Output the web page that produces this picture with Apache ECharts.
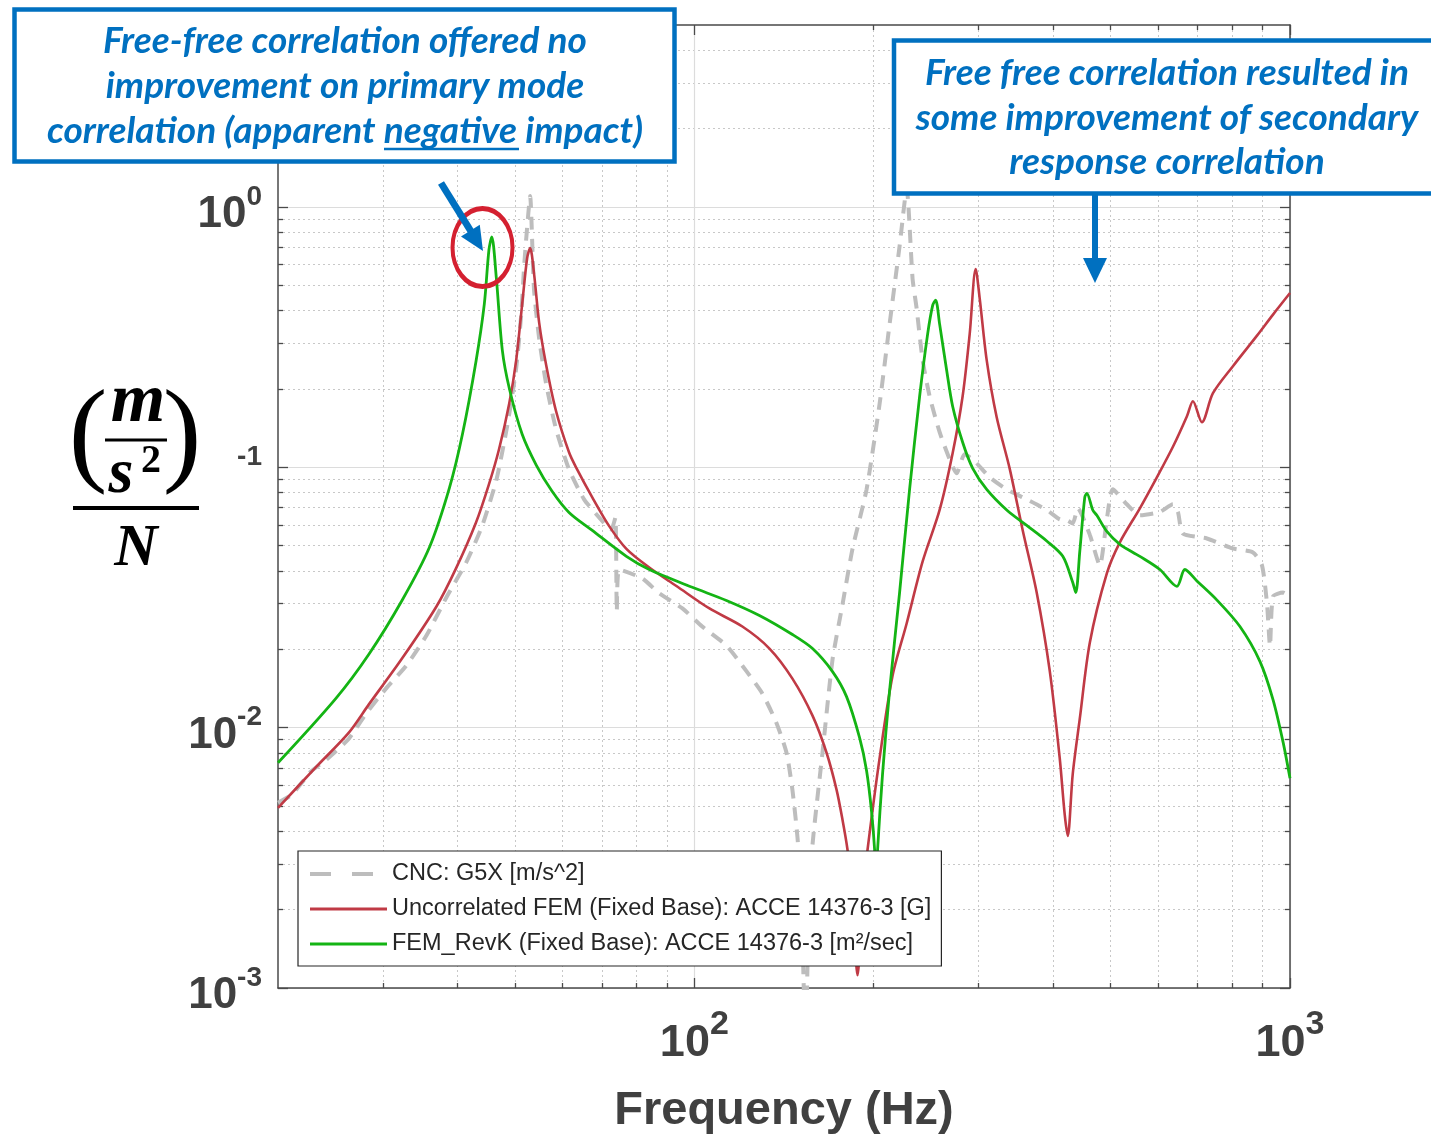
<!DOCTYPE html>
<html>
<head>
<meta charset="utf-8">
<script src="https://cdn.jsdelivr.net/npm/echarts@6/dist/echarts.min.js"></script>
<style>
html,body{margin:0;padding:0;background:#ffffff;}
#chart{width:1431px;height:1134px;}
</style>
</head>
<body>
<div id="chart"></div>
<script>
// ---------------- data ----------------
const seriesNames = [
  'CNC: G5X [m/s^2]',
  'Uncorrelated FEM (Fixed Base): ACCE 14376-3 [G]',
  'FEM_RevK (Fixed Base): ACCE 14376-3 [m²/sec]'
];

const cncFreq = [20,21.1,22.7,24.1,26.3,28.1,30.5,32.8,35.5,38.5,
  41.4,44.0,46.5,48.5,50.2,51.2,51.8,52.4,53.0,53.8,
  54.9,56.4,58.6,61.6,65.3,69.2,72.5,73.7,74.1,74.8,
  81.8,87.4,95.5,103.1,113.2,122.3,130.1,137.3,142.8,146.1,
  149.0,151.3,153.7,155.5,157.9,164.1,170.6,177.3,184.3,194.6,
  204.6,212.7,221.1,227.2,232.5,236.1,241.7,248.3,258.1,268.3,
  275.6,284.3,295.6,313.3,334.5,361.4,390.5,410.6,421.8,431.8,
  440.3,461.3,479.4,492.6,504.0,532.2,559.7,604.7,636.0,648.4,
  661.0,725.3,802.0,866.7,897.4,914.9,925.6,936.4,973.2,1000];
const cncVal = [0.00515,0.00553,0.00677,0.00753,0.00907,0.01132,0.01431,0.01724,0.02259,0.0322,
  0.0431,0.0593,0.0891,0.1438,0.2381,0.3842,0.5957,0.8377,1.102,0.4838,
  0.3108,0.2086,0.14,0.0982,0.0753,0.0642,0.0577,0.0642,0.02794,0.0405,
  0.0374,0.03276,0.0287,0.02446,0.02067,0.01648,0.01351,0.01045,0.00801,0.00577,
  0.00378,0.00218,0.0006,0.00183,0.00355,0.00801,0.01826,0.02972,0.0486,0.0823,
  0.1747,0.3548,0.7079,1.173,0.5286,0.4089,0.258,0.1875,0.1364,0.1073,
  0.0948,0.1122,0.1055,0.0915,0.0823,0.0753,0.0686,0.0631,0.0626,0.0609,
  0.0696,0.055,0.042,0.0631,0.0823,0.0721,0.0654,0.0674,0.0721,0.0674,
  0.0557,0.0533,0.0488,0.0471,0.042,0.03,0.02058,0.0319,0.03305,0.0319];

const femFreq = [20,23.2,26.3,28.4,32.3,36.9,39.8,43.0,45.2,47.0,
  48.9,50.2,51.4,52.4,53.0,53.8,54.9,56.4,58.6,61.6,
  63.3,67.4,72.0,76.9,84.0,93.3,106.0,120.4,133.7,146.1,
  157.9,166.7,173.3,177.3,180.7,184.3,187.9,191.6,195.4,204.6,
  215.2,227.2,241.7,258.1,271.4,282.1,289.9,296.7,301.3,309.6,
  321.8,338.3,355.9,375.6,395.0,410.6,418.6,423.5,431.8,443.7,
  461.3,492.6,518.0,559.7,597.7,636.0,671.4,687.1,711.4,742.4,
  802.0,880.2,936.4,1000];
const femVal = [0.00492,0.00708,0.00957,0.01226,0.01842,0.0292,0.0409,0.0614,0.086,0.1173,
  0.1763,0.2557,0.4235,0.6367,0.6956,0.5573,0.358,0.2468,0.1642,0.1142,
  0.1,0.0767,0.0593,0.0486,0.0412,0.035,0.0287,0.02446,0.02013,0.01543,
  0.01112,0.00801,0.00577,0.00443,0.00342,0.00228,0.00112,0.00228,0.00342,0.0076,
  0.01585,0.02512,0.0435,0.0686,0.1132,0.1875,0.3248,0.5775,0.4467,0.258,
  0.1557,0.0991,0.0572,0.03305,0.01657,0.00763,0.00463,0.00384,0.00665,0.01083,
  0.02123,0.0391,0.0515,0.0696,0.0915,0.1199,0.1571,0.1794,0.149,0.1926,
  0.2446,0.3205,0.386,0.467];

const revkFreq = [20,25.0,28.4,32.3,35.9,38.8,40.8,43.0,44.4,45.2,
  45.7,46.5,47.6,48.9,51.4,54.3,57.7,61.6,67.4,76.9,
  84.0,99.2,113.2,128.6,146.1,157.9,170.6,180.1,189.4,194.6,
  198.4,200.7,201.8,203.0,207.0,212.7,221.1,229.8,238.9,246.4,
  251.2,254.1,258.1,265.2,271.4,282.1,293.3,309.6,334.5,361.4,
  390.5,415.5,431.8,436.8,443.7,452.3,456.0,466.7,473.9,492.6,
  518.0,559.7,604.7,645.8,666.1,697.8,754.0,824.1,890.6,936.4,
  973.2,1000];
const revkVal = [0.00733,0.01293,0.0191,0.0308,0.0492,0.0834,0.1339,0.2557,0.4235,0.6833,
  0.767,0.538,0.2818,0.2012,0.1339,0.1018,0.0809,0.0671,0.0572,0.0455,
  0.0405,0.0346,0.0308,0.02697,0.02279,0.02013,0.01642,0.01316,0.00915,0.00683,
  0.00475,0.00342,0.00249,0.00336,0.00665,0.01388,0.03305,0.0823,0.1875,0.3248,
  0.418,0.4388,0.3548,0.236,0.1716,0.1248,0.0991,0.0823,0.0686,0.0598,
  0.0521,0.0455,0.0361,0.03305,0.0475,0.0767,0.0794,0.0684,0.0654,0.0567,
  0.0506,0.0455,0.0405,0.0349,0.0405,0.0366,0.0309,0.02446,0.01794,0.01282,
  0.00884,0.00639];

const xMajorTicks = [100, 1000];
const xMinorTicks = [30,40,50,60,70,80,90,200,300,400,500,600,700,800,900];
const yMajorTicks = [0.001, 0.01, 0.1, 1];
const yMinorTicks = [0.002,0.003,0.004,0.005,0.006,0.007,0.008,0.009,
  0.02,0.03,0.04,0.05,0.06,0.07,0.08,0.09,
  0.2,0.3,0.4,0.5,0.6,0.7,0.8,0.9,2,3,4];
const xRange = [20, 1000];
const yRange = [0.001, 5];

// ---------------- styles ----------------
const SANS = "'Liberation Sans', Arial, Helvetica, sans-serif";
const SERIF = "'Liberation Serif', 'Times New Roman', serif";
const ANN = "Lato, 'Open Sans', sans-serif";
const AXC = '#4a4a4a';
const LBL = '#404040';
const BLUE = '#0070C0';
const C_CNC = '#BDBDBD', C_FEM = '#C03A45', C_REVK = '#14B414';

function pairs(f, v) { return f.map((x, i) => [x, v[i]]); }
function expOf(v) { return Math.round(Math.log10(v)); }

function xAxisDef(pos, major) {
  return {
    type: 'log', logBase: 10, min: xRange[0], max: xRange[1], position: pos,
    axisLine: { show: major, lineStyle: { color: AXC, width: 1.5 } },
    axisTick: { show: true, inside: true, length: major ? 10 : 5,
      customValues: major ? xMajorTicks : xMinorTicks,
      lineStyle: { color: AXC, width: 1.3 } },
    axisLabel: { show: false },
    splitLine: { show: false },
    minorTick: { show: false }, minorSplitLine: { show: false }
  };
}
function yAxisDef(pos, major) {
  return {
    type: 'log', logBase: 10, min: yRange[0], max: yRange[1], position: pos,
    axisLine: { show: major, lineStyle: { color: AXC, width: 1.5 } },
    axisTick: { show: true, inside: true, length: major ? 10 : 5,
      customValues: major ? yMajorTicks : yMinorTicks,
      lineStyle: { color: AXC, width: 1.3 } },
    axisLabel: { show: false },
    splitLine: { show: false },
    minorTick: { show: false }, minorSplitLine: { show: false }
  };
}

const xAxes = [xAxisDef('bottom', true), xAxisDef('bottom', false), xAxisDef('top', true), xAxisDef('top', false)];
xAxes[0].axisLabel = {
  show: true, customValues: xMajorTicks, margin: 20,
  formatter: v => '{b|10}{s|' + expOf(v) + '}',
  rich: {
    b: { fontSize: 45, fontWeight: 'bold', fontFamily: SANS, color: LBL },
    s: { fontSize: 34, fontWeight: 'bold', fontFamily: SANS, color: LBL, padding: [0, 0, 38, 0] }
  }
};
xAxes[0].splitLine = { show: true, lineStyle: { color: '#dcdcdc', width: 1.2, type: 'solid' } };
xAxes[1].splitLine = { show: true, lineStyle: { color: '#c8c8c8', width: 1, type: [2, 3] } };
xAxes[0].name = 'Frequency (Hz)';
xAxes[0].nameLocation = 'middle';
xAxes[0].nameGap = 100;
xAxes[0].nameTextStyle = { fontSize: 47, fontWeight: 'bold', fontFamily: SANS, color: LBL };

const yAxes = [yAxisDef('left', true), yAxisDef('left', false), yAxisDef('right', true), yAxisDef('right', false)];
yAxes[0].axisLabel = {
  show: true, customValues: yMajorTicks, margin: 16,
  formatter: v => (Math.abs(v - 0.1) < 1e-9 ? '{h|10}{s|-1}' : '{b|10}{s|' + expOf(v) + '}'),
  rich: {
    b: { fontSize: 44, fontWeight: 'bold', fontFamily: SANS, color: LBL, padding: [16, 0, 0, 0] },
    h: { fontSize: 44, fontWeight: 'bold', fontFamily: SANS, color: 'rgba(0,0,0,0)', padding: [16, 0, 0, 0] },
    s: { fontSize: 28, fontWeight: 'bold', fontFamily: SANS, color: LBL, padding: [0, 0, 20, 0] }
  }
};
yAxes[0].splitLine = { show: true, lineStyle: { color: '#dcdcdc', width: 1.2, type: 'solid' } };
yAxes[1].splitLine = { show: true, lineStyle: { color: '#c8c8c8', width: 1, type: [2, 3] } };

function txt(x, y, text, font, color, z) {
  return { type: 'text', x: x, y: y, z: z || 101,
    style: { text: text, font: font, fill: color, align: 'center', verticalAlign: 'middle',
      textAlign: 'center', textVerticalAlign: 'middle' } };
}
const annFont = 'italic bold 37px ' + ANN;

const graphics = [
  // left annotation box
  { type: 'rect', z: 100, shape: { x: 14.5, y: 9.5, width: 660, height: 152 },
    style: { fill: '#ffffff', stroke: BLUE, lineWidth: 4.5 } },
  txt(345, 41, 'Free-free correlation offered no', annFont, BLUE),
  txt(345, 86, 'improvement on primary mode', annFont, BLUE),
  txt(345, 131, 'correlation (apparent negative impact)', annFont, BLUE),
  { type: 'line', z: 101, shape: { x1: 384, y1: 149, x2: 519, y2: 149 }, style: { stroke: BLUE, lineWidth: 2.5 } },
  // right annotation box
  { type: 'rect', z: 100, shape: { x: 894, y: 40.5, width: 620, height: 153 },
    style: { fill: '#ffffff', stroke: BLUE, lineWidth: 4.5 } },
  txt(1167, 73, 'Free free correlation resulted in', annFont, BLUE),
  txt(1167, 118, 'some improvement of secondary', annFont, BLUE),
  txt(1167, 162, 'response correlation', annFont, BLUE),
  // right arrow
  { type: 'line', z: 101, shape: { x1: 1095, y1: 195, x2: 1095, y2: 262 }, style: { stroke: BLUE, lineWidth: 6 } },
  { type: 'polygon', z: 101, shape: { points: [[1083, 258], [1107, 258], [1095, 283]] }, style: { fill: BLUE } },
  // red ellipse around green peak
  { type: 'circle', z: 101, x: 482.5, y: 247.5, scaleY: 1.3, shape: { cx: 0, cy: 0, r: 30 },
    style: { fill: 'none', stroke: '#D42030', lineWidth: 4, strokeNoScale: true } },
  // left arrow
  { type: 'line', z: 102, shape: { x1: 441, y1: 183, x2: 472, y2: 233 }, style: { stroke: BLUE, lineWidth: 7 } },
  { type: 'polygon', z: 102, shape: { points: [[461, 236.4], [479.8, 224.8], [483, 251]] }, style: { fill: BLUE } },
  // y-axis unit (m/s^2)/N
  txt(88, 440, '(', '116px ' + SERIF, '#000'),
  txt(182, 440, ')', '116px ' + SERIF, '#000'),
  txt(138, 403, 'm', 'italic bold 70px ' + SERIF, '#000'),
  { type: 'line', z: 101, shape: { x1: 105, y1: 440, x2: 167, y2: 440 }, style: { stroke: '#000', lineWidth: 3 } },
  txt(121, 475, 's', 'italic bold 64px ' + SERIF, '#000'),
  txt(151, 462, '2', 'bold 40px ' + SERIF, '#000'),
  { type: 'line', z: 101, shape: { x1: 73, y1: 508, x2: 199, y2: 508 }, style: { stroke: '#000', lineWidth: 4 } },
  txt(136, 549, 'N', 'italic bold 60px ' + SERIF, '#000')
];

const chart = echarts.init(document.getElementById('chart'), null, { renderer: 'canvas' });
chart.setOption({
  backgroundColor: '#ffffff',
  animation: false,
  grid: { left: 278, right: 141, top: 25, bottom: 146, containLabel: false, outerBoundsMode: 'none' },
  xAxis: xAxes,
  yAxis: yAxes,
  legend: {
    orient: 'vertical', left: 298, top: 851,
    padding: [11, 10, 10, 10], itemWidth: 77, itemHeight: 22, itemGap: 11,
    backgroundColor: '#ffffff', borderColor: '#262626', borderWidth: 1.2, borderRadius: 0,
    textStyle: { fontSize: 23.5, color: '#262626', fontFamily: SANS },
    itemStyle: { opacity: 0 },
    data: [
      { name: seriesNames[0], itemStyle: { opacity: 0 }, lineStyle: { color: C_CNC, width: 4, type: [21, 21], cap: 'butt' } },
      { name: seriesNames[1], itemStyle: { opacity: 0 }, lineStyle: { color: C_FEM, width: 2.8, type: 'solid' } },
      { name: seriesNames[2], itemStyle: { opacity: 0 }, lineStyle: { color: C_REVK, width: 3, type: 'solid' } }
    ],
    z: 10
  },
  series: [
    { name: seriesNames[0], type: 'line', xAxisIndex: 0, yAxisIndex: 0, data: pairs(cncFreq, cncVal),
      showSymbol: false, symbol: 'none', clip: true, z: 2, smooth: 0.2,
      lineStyle: { color: C_CNC, width: 4, type: [13, 9], cap: 'butt' }, itemStyle: { color: C_CNC } },
    { name: seriesNames[1], type: 'line', xAxisIndex: 0, yAxisIndex: 0, data: pairs(femFreq, femVal),
      showSymbol: false, symbol: 'none', clip: true, z: 3, smooth: 0.3,
      lineStyle: { color: C_FEM, width: 2.6 }, itemStyle: { color: C_FEM } },
    { name: seriesNames[2], type: 'line', xAxisIndex: 0, yAxisIndex: 0, data: pairs(revkFreq, revkVal),
      showSymbol: false, symbol: 'none', clip: true, z: 4, smooth: 0.3,
      lineStyle: { color: C_REVK, width: 2.8 }, itemStyle: { color: C_REVK } }
  ],
  graphic: graphics
});
</script>
</body>
</html>
